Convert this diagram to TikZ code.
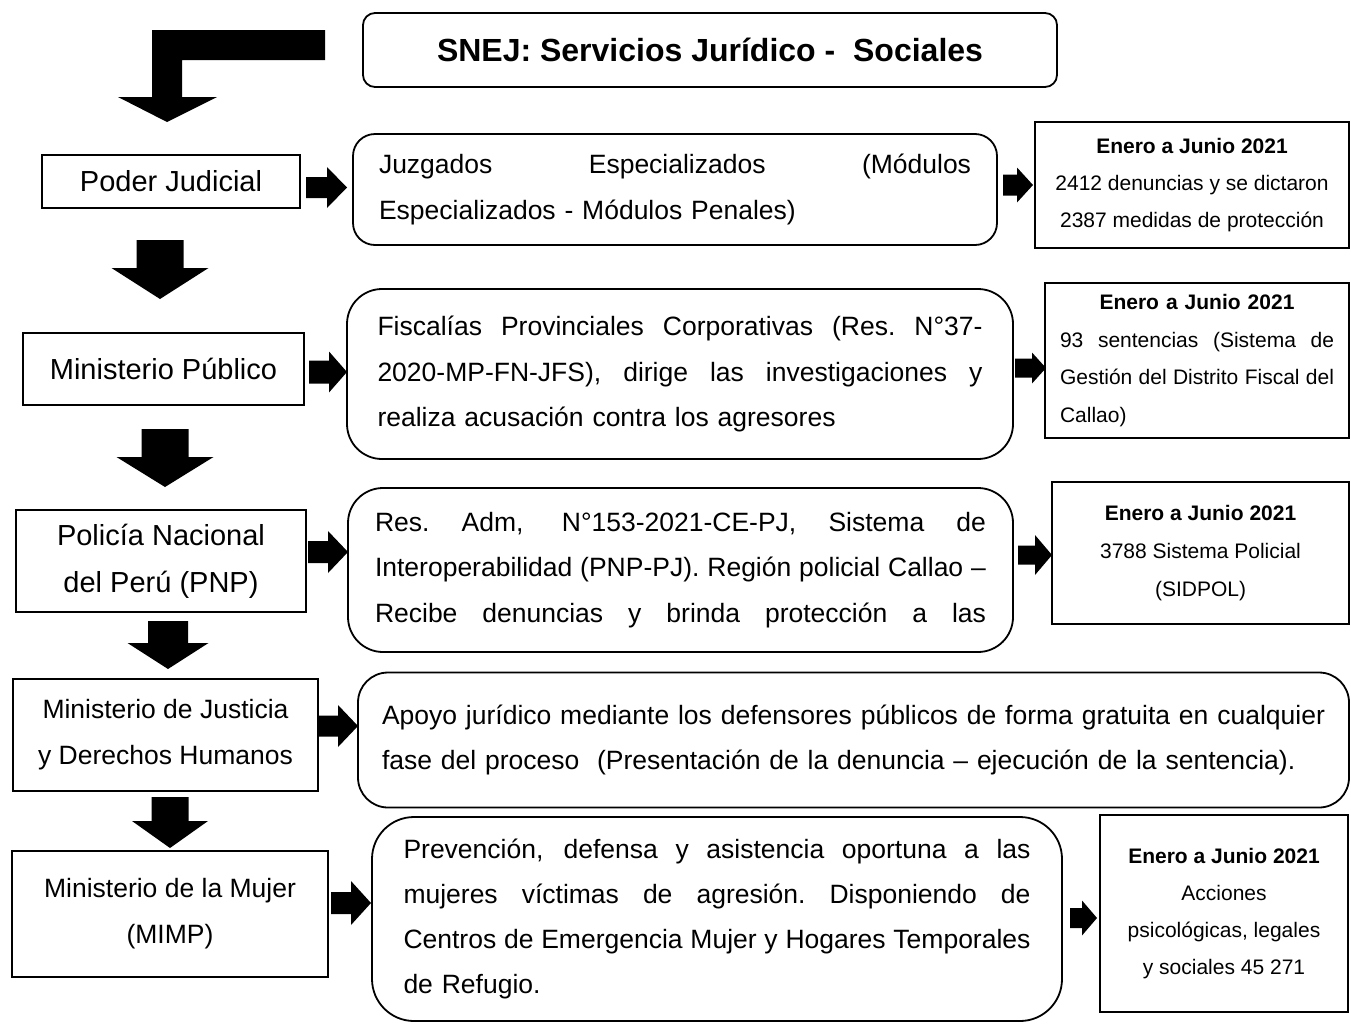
\documentclass[tikz,border=0pt]{standalone}
\usepackage{fontspec}
\setmainfont{Liberation Sans}
\newcommand{\rarr}[6]{% x0, x1, yc, shaft half, head half, head start
  \fill[black] (#1,#3-#4) -- (#6,#3-#4) -- (#6,#3-#5) -- (#2,#3) -- (#6,#3+#5) -- (#6,#3+#4) -- (#1,#3+#4) -- cycle;}
\newcommand{\darr}[6]{% xc, y0, y1, shaft half, head half, head start
  \fill[black] (#1-#4,#2) -- (#1+#4,#2) -- (#1+#4,#6) -- (#1+#5,#6) -- (#1,#3) -- (#1-#5,#6) -- (#1-#4,#6) -- cycle;}
\newcommand{\jl}[2]{{\spaceskip=\fontdimen2\font plus 1fil\relax\xspaceskip=\spaceskip\makebox[#1][s]{#2}}}
\tikzset{
  lbox/.style={draw, line width=1.8pt, inner sep=0pt, align=center, font=\fontsize{29}{47}\selectfont},
  lboxs/.style={lbox, font=\fontsize{26.5}{46}\selectfont},
  mbox/.style={draw, line width=1.8pt, inner sep=0pt, align=left, font=\fontsize{26.5}{45.5}\selectfont},
  sbox/.style={draw, line width=1.8pt, inner sep=0pt, align=center, font=\fontsize{21}{37}\selectfont},
}
\begin{document}
\begin{tikzpicture}[x=1pt,y=-1pt]
\useasboundingbox (0,0) rectangle (1351,1023);

% title
\node[draw, line width=1.8pt, rounded corners=12pt, minimum width=694pt, minimum height=74pt,
      font=\fontsize{32}{38}\selectfont\bfseries] (title) at (710,50) {SNEJ: Servicios Jurídico - \ Sociales};

% top L arrow
\fill[black] (325,30) -- (152,30) -- (152,97) -- (118,97) -- (167,122) -- (217,97) -- (182,97) -- (182,60) -- (325,60) -- cycle;

% left column
\node[lbox, minimum width=258pt, minimum height=53pt] (pj) at (171,181.5) {Poder Judicial};
\node[lbox, minimum width=281pt, minimum height=72pt] (mp) at (163.5,369) {Ministerio Público};
\node[lbox, minimum width=290pt, minimum height=102pt] (pnp) at (161,561) {Policía Nacional\\del Perú (PNP)};
\node[lboxs, minimum width=305pt, minimum height=112pt] (mj) at (165.5,735) {Ministerio de Justicia\\y Derechos Humanos};
\node[lboxs, minimum width=316pt, minimum height=126pt] (mimp) at (170,914) {Ministerio de la Mujer\\(MIMP)};

% down arrows
\darr{160}{240}{299}{23.5}{48.5}{268}
\darr{165}{429}{487}{23.5}{48.5}{457}
\darr{168}{621}{669}{20}{40.5}{643}
\darr{170}{797}{848}{18.5}{38}{821}

% middle column
\node[mbox, rounded corners=22pt, minimum width=644pt, minimum height=111pt, text width=592pt] (jz) at (675,189.5)
  {\jl{592pt}{Juzgados Especializados (Módulos}\\Especializados - Módulos Penales)};
\node[mbox, rounded corners=35pt, minimum width=666pt, minimum height=170pt, text width=605pt] (fis) at (680,374)
  {\jl{605pt}{Fiscalías Provinciales Corporativas (Res. N°37-}\\
   \jl{605pt}{2020-MP-FN-JFS), dirige las investigaciones y}\\
   realiza acusación contra los agresores};
\node[mbox, rounded corners=35pt, minimum width=665pt, minimum height=164pt, text width=611pt] (res) at (680.5,570)
  {\jl{611pt}{Res. Adm, N°153-2021-CE-PJ, Sistema de}\\
   \jl{611pt}{Interoperabilidad (PNP-PJ). Región policial Callao –}\\
   \jl{611pt}{Recibe denuncias y brinda protección a las}};
\node[mbox, rounded corners=30pt, minimum width=991pt, minimum height=135pt, text width=943pt] (apo) at (853.5,740)
  {\jl{943pt}{Apoyo jurídico mediante los defensores públicos de forma gratuita en cualquier}\\
   fase del proceso \ (Presentación de la denuncia – ejecución de la sentencia).};
\node[mbox, rounded corners=42pt, minimum width=690pt, minimum height=204pt, text width=627pt,
      font=\fontsize{26.5}{44.7}\selectfont] (pre) at (717,919)
  {\jl{627pt}{Prevención, defensa y asistencia oportuna a las}\\
   \jl{627pt}{mujeres víctimas de agresión. Disponiendo de}\\
   \jl{627pt}{Centros de Emergencia Mujer y Hogares Temporales}\\
   de Refugio.};

% right column
\node[sbox, minimum width=314pt, minimum height=126pt] (s1) at (1192,185)
  {\textbf{Enero a Junio 2021}\\2412 denuncias y se dictaron\\2387 medidas de protección};
\node[sbox, align=left, minimum width=304pt, minimum height=155pt, text width=274pt,
      font=\fontsize{21}{37.7}\selectfont] (s2) at (1197,360.5)
  {\makebox[274pt][c]{\bfseries Enero a Junio 2021}\\
   \jl{274pt}{93 sentencias (Sistema de}\\
   \jl{274pt}{Gestión del Distrito Fiscal del}\\
   Callao)};
\node[sbox, minimum width=297pt, minimum height=142pt, font=\fontsize{21}{38}\selectfont] (s3) at (1200.5,553)
  {\textbf{Enero a Junio 2021}\\3788 Sistema Policial\\(SIDPOL)};
\node[sbox, minimum width=248pt, minimum height=197pt] (s4) at (1224,913.5)
  {\textbf{Enero a Junio 2021}\\Acciones\\psicológicas, legales\\y sociales 45 271};

% horizontal arrows (left -> middle)
\rarr{306}{347}{187.5}{10.5}{20.5}{327}
\rarr{309}{347}{372}{11.5}{20.5}{329}
\rarr{308}{348}{552}{11}{21}{328}
\rarr{319}{358}{726}{10.5}{21}{338}
\rarr{331}{371}{903}{11}{22}{351}

% horizontal arrows (middle -> right)
\rarr{1003}{1033}{185}{10.5}{17.5}{1017}
\rarr{1015}{1046}{368}{9.5}{15.5}{1032}
\rarr{1018}{1052}{555}{9.5}{20}{1035}
\rarr{1070}{1097}{918}{10}{17.5}{1082}
\end{tikzpicture}
\end{document}
